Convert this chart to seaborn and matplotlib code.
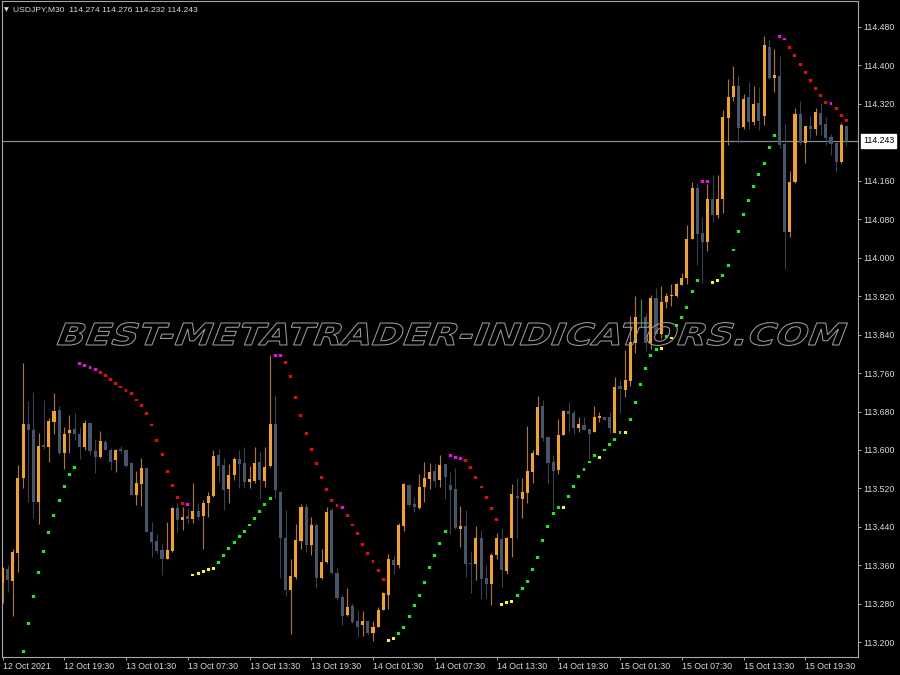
import numpy as np
import pandas as pd
import matplotlib
matplotlib.use("Agg")
import matplotlib.pyplot as plt
import seaborn as sns
from matplotlib.textpath import TextPath
from matplotlib.patches import PathPatch
from matplotlib.font_manager import FontProperties
from matplotlib.transforms import Affine2D

# USDJPY M30 candles, 12 Oct 2021 13:30 -> 15 Oct 2021 ~23:30
opens = [113.324, 113.352, 113.328, 113.385, 113.541, 113.655, 113.642, 113.492, 113.610, 113.606,
         113.659, 113.683, 113.594, 113.635, 113.643, 113.633, 113.606, 113.657, 113.597, 113.585,
         113.617, 113.600, 113.579, 113.602, 113.600, 113.572, 113.506, 113.529, 113.563, 113.430,
         113.411, 113.392, 113.374, 113.390, 113.479, 113.454, 113.463, 113.456, 113.474, 113.463,
         113.489, 113.505, 113.589, 113.568, 113.518, 113.548, 113.581, 113.572, 113.534, 113.536,
         113.574, 113.536, 113.567, 113.655, 113.513, 113.417, 113.308, 113.336, 113.411, 113.482,
         113.402, 113.444, 113.333, 113.367, 113.475, 113.345, 113.295, 113.256, 113.275, 113.244,
         113.236, 113.244, 113.220, 113.232, 113.268, 113.298, 113.371, 113.361, 113.442, 113.527,
         113.488, 113.480, 113.522, 113.539, 113.556, 113.538, 113.570, 113.527, 113.519, 113.436,
         113.442, 113.365, 113.362, 113.416, 113.334, 113.322, 113.381, 113.415, 113.349, 113.416,
         113.504, 113.499, 113.511, 113.555, 113.590, 113.692, 113.626, 113.576, 113.558, 113.631,
         113.681, 113.676, 113.645, 113.652, 113.643, 113.638, 113.667, 113.668, 113.669, 113.636,
         113.733, 113.724, 113.744, 113.823, 113.874, 113.877, 113.823, 113.917, 113.841, 113.908,
         113.920, 113.921, 113.944, 113.957, 114.039, 114.144, 114.052, 114.032, 114.122, 114.089,
         114.122, 114.290, 114.335, 114.357, 114.272, 114.334, 114.283, 114.321, 114.295, 114.439,
         114.373, 114.378, 114.236, 114.054, 114.158, 114.299, 114.238, 114.273, 114.268, 114.302,
         114.278, 114.252, 114.238, 114.199, 114.274]
highs = [113.357, 113.361, 113.395, 113.569, 113.782, 113.701, 113.720, 113.635, 113.705, 113.667,
         113.718, 113.692, 113.647, 113.673, 113.678, 113.647, 113.662, 113.659, 113.622, 113.640,
         113.621, 113.605, 113.603, 113.608, 113.603, 113.573, 113.556, 113.583, 113.565, 113.451,
         113.426, 113.406, 113.451, 113.482, 113.489, 113.482, 113.479, 113.531, 113.489, 113.496,
         113.512, 113.600, 113.603, 113.583, 113.571, 113.586, 113.600, 113.606, 113.567, 113.607,
         113.595, 113.607, 113.798, 113.714, 113.515, 113.475, 113.374, 113.447, 113.488, 113.489,
         113.461, 113.449, 113.395, 113.482, 113.479, 113.354, 113.298, 113.312, 113.281, 113.268,
         113.265, 113.247, 113.245, 113.274, 113.305, 113.383, 113.381, 113.449, 113.532, 113.529,
         113.503, 113.550, 113.576, 113.572, 113.572, 113.590, 113.571, 113.555, 113.562, 113.483,
         113.475, 113.390, 113.442, 113.433, 113.361, 113.385, 113.428, 113.437, 113.420, 113.529,
         113.541, 113.541, 113.650, 113.600, 113.712, 113.704, 113.628, 113.590, 113.665, 113.683,
         113.699, 113.683, 113.669, 113.668, 113.643, 113.691, 113.679, 113.669, 113.679, 113.752,
         113.745, 113.808, 113.879, 113.920, 113.915, 113.884, 113.922, 113.938, 113.941, 113.927,
         113.945, 113.948, 113.969, 114.068, 114.157, 114.155, 114.085, 114.153, 114.172, 114.173,
         114.307, 114.371, 114.399, 114.381, 114.340, 114.365, 114.357, 114.356, 114.461, 114.454,
         114.434, 114.420, 114.278, 114.181, 114.311, 114.326, 114.274, 114.295, 114.311, 114.321,
         114.293, 114.257, 114.241, 114.280, 114.276]
lows = [113.281, 113.304, 113.254, 113.347, 113.520, 113.492, 113.458, 113.447, 113.603, 113.574,
        113.633, 113.592, 113.560, 113.593, 113.621, 113.581, 113.600, 113.590, 113.553, 113.583,
        113.599, 113.558, 113.555, 113.593, 113.565, 113.506, 113.485, 113.484, 113.430, 113.378,
        113.385, 113.340, 113.373, 113.388, 113.430, 113.433, 113.447, 113.449, 113.454, 113.395,
        113.460, 113.503, 113.534, 113.475, 113.490, 113.538, 113.520, 113.520, 113.520, 113.531,
        113.499, 113.522, 113.565, 113.501, 113.333, 113.296, 113.218, 113.331, 113.395, 113.388,
        113.381, 113.312, 113.331, 113.365, 113.343, 113.288, 113.236, 113.254, 113.241, 113.210,
        113.213, 113.215, 113.203, 113.231, 113.267, 113.270, 113.343, 113.354, 113.432, 113.482,
        113.470, 113.478, 113.492, 113.518, 113.524, 113.524, 113.499, 113.425, 113.435, 113.399,
        113.335, 113.302, 113.329, 113.289, 113.293, 113.277, 113.374, 113.315, 113.343, 113.378,
        113.416, 113.458, 113.490, 113.531, 113.589, 113.619, 113.529, 113.476, 113.551, 113.631,
        113.638, 113.633, 113.638, 113.641, 113.582, 113.638, 113.659, 113.662, 113.636, 113.635,
        113.676, 113.711, 113.733, 113.802, 113.856, 113.806, 113.811, 113.841, 113.832, 113.895,
        113.899, 113.919, 113.943, 113.946, 114.038, 113.985, 113.948, 114.014, 114.075, 114.083,
        114.094, 114.234, 114.325, 114.238, 114.268, 114.267, 114.276, 114.265, 114.276, 114.371,
        114.344, 114.229, 113.976, 114.044, 114.155, 114.234, 114.196, 114.246, 114.255, 114.255,
        114.234, 114.214, 114.179, 114.196, 114.232]
closes = [113.354, 113.329, 113.388, 113.542, 113.655, 113.642, 113.492, 113.608, 113.606, 113.660,
          113.681, 113.593, 113.633, 113.642, 113.633, 113.607, 113.657, 113.597, 113.585, 113.619,
          113.600, 113.576, 113.601, 113.598, 113.567, 113.506, 113.531, 113.563, 113.430, 113.409,
          113.390, 113.373, 113.392, 113.479, 113.454, 113.461, 113.456, 113.474, 113.461, 113.489,
          113.505, 113.587, 113.567, 113.517, 113.548, 113.581, 113.571, 113.534, 113.539, 113.572,
          113.538, 113.565, 113.655, 113.517, 113.416, 113.308, 113.338, 113.412, 113.481, 113.402,
          113.444, 113.333, 113.367, 113.472, 113.345, 113.293, 113.254, 113.274, 113.243, 113.232,
          113.244, 113.220, 113.232, 113.268, 113.302, 113.374, 113.361, 113.445, 113.529, 113.485,
          113.481, 113.522, 113.541, 113.555, 113.536, 113.569, 113.544, 113.517, 113.437, 113.442,
          113.362, 113.362, 113.416, 113.331, 113.322, 113.381, 113.416, 113.350, 113.417, 113.508,
          113.501, 113.513, 113.556, 113.594, 113.689, 113.624, 113.572, 113.556, 113.631, 113.681,
          113.675, 113.645, 113.654, 113.641, 113.634, 113.668, 113.670, 113.663, 113.645, 113.731,
          113.726, 113.745, 113.824, 113.876, 113.874, 113.822, 113.917, 113.841, 113.908, 113.921,
          113.922, 113.946, 113.958, 114.039, 114.144, 114.050, 114.033, 114.122, 114.089, 114.123,
          114.292, 114.335, 114.357, 114.270, 114.331, 114.283, 114.320, 114.285, 114.443, 114.373,
          114.380, 114.234, 114.054, 114.158, 114.300, 114.239, 114.273, 114.268, 114.304, 114.276,
          114.250, 114.236, 114.200, 114.276, 114.243]

# Parabolic SAR per bar (nan = not drawn)
sar = [np.nan, np.nan, np.nan, np.nan, 113.181, 113.240, 113.296, 113.345, 113.388, 113.428,
       113.463, 113.494, 113.524, 113.549, 113.564, 113.780, 113.776, 113.772, 113.767, 113.762,
       113.754, 113.746, 113.738, 113.731, 113.724, 113.717, 113.704, 113.693, 113.676, 113.652,
       113.620, 113.591, 113.555, 113.526, 113.501, 113.489, 113.487, 113.340, 113.343, 113.348,
       113.352, 113.354, 113.366, 113.381, 113.395, 113.407, 113.420, 113.431, 113.444, 113.457,
       113.473, 113.486, 113.499, 113.797, 113.797, 113.782, 113.753, 113.709, 113.671, 113.635,
       113.602, 113.572, 113.543, 113.517, 113.494, 113.484, 113.480, 113.463, 113.444, 113.426,
       113.404, 113.385, 113.369, 113.350, 113.331, 113.204, 113.208, 113.218, 113.231, 113.254,
       113.277, 113.298, 113.324, 113.355, 113.381, 113.406, 113.431, 113.588, 113.585, 113.583,
       113.578, 113.564, 113.542, 113.523, 113.501, 113.479, 113.456, 113.279, 113.282, 113.284,
       113.297, 113.312, 113.326, 113.352, 113.377, 113.411, 113.440, 113.468, 113.481, 113.480,
       113.504, 113.525, 113.545, 113.560, 113.575, 113.588, 113.584, 113.600, 113.611, 113.622,
       113.636, 113.636, 113.663, 113.699, 113.737, 113.770, 113.797, 113.810, 113.811, 113.836,
       113.833, 113.859, 113.876, 113.896, 113.929, 113.952, 114.158, 114.158, 113.948, 113.953,
       113.963, 113.984, 114.016, 114.054, 114.090, 114.120, 114.148, 114.173, 114.196, 114.229,
       114.255, 114.460, 114.455, 114.438, 114.420, 114.402, 114.385, 114.368, 114.352, 114.338,
       114.323, 114.321, 114.311, 114.296, 114.285]
# G = up, Y = up (slow), R = down, M = down (slow), - = none
sar_state = ("----" "GGGGGGGGGGG" "MMMM" "RRRRRRRRRRRRRRRRR" "M" "YYYYY" "GGGGGGGGGGG"
             "MM" "RRRRRRRRRRR" "M" "RRRRRRRR" "YY" "GGGGGGGGGG" "MMM" "RRRRRRR" "YYY"
             "GGGGGGGGG" "Y" "GGGGGG" "Y" "GGGG" "Y" "GGGGGG" "Y" "G" "Y" "GGGGG" "MM" "YY"
             "GGGGGGGGGGG" "MM" "RRRRRRRR" "M" "RRR")

time_labels = ["12 Oct 2021", "12 Oct 19:30", "13 Oct 01:30", "13 Oct 07:30", "13 Oct 13:30",
               "13 Oct 19:30", "14 Oct 01:30", "14 Oct 07:30", "14 Oct 13:30", "14 Oct 19:30",
               "15 Oct 01:30", "15 Oct 07:30", "15 Oct 13:30", "15 Oct 19:30"]
price_ticks = [113.200, 113.280, 113.360, 113.440, 113.520, 113.600, 113.680, 113.760, 113.840,
               113.920, 114.000, 114.080, 114.160, 114.320, 114.400, 114.480]

BULL = "#F7A21B"
BEAR = "#46566A"
BULL_WICK = "#B8780F"
BEAR_WICK = "#36424F"
DOJI = "#1FA01F"
TXT = "#DADADA"
EDGE = "#A8A8A8"

sns.set_theme(style="dark", rc={"axes.facecolor": "black", "figure.facecolor": "black"})
plt.rcParams["font.family"] = ["Liberation Sans", "DejaVu Sans"]

fig = plt.figure(figsize=(9, 6.75), dpi=100, facecolor="black")
ax = fig.add_axes([2 / 900, 18.3 / 675, 856 / 900, 655.2 / 675])
ax.set_facecolor("black")

o, h, l, c = (np.array(v) for v in (opens, highs, lows, closes))
x = np.arange(len(o))
body_col = np.where(c > o, BULL, np.where(c < o, BEAR, DOJI))
wick_col = np.where(c > o, BULL_WICK, np.where(c < o, BEAR_WICK, DOJI))

ax.vlines(x, l, h, colors=wick_col, lw=0.8, zorder=2)
ax.bar(x, np.maximum(np.abs(c - o), 0.0012), bottom=np.minimum(o, c), width=0.6,
       color=body_col, linewidth=0, zorder=3)

# parabolic SAR dots
sar_df = pd.DataFrame({"bar": x, "sar": sar, "state": list(sar_state)})
sar_df = sar_df[sar_df["state"] != "-"]
pal = {"G": "#00FF00", "Y": "#FFFF00", "R": "#FF0000", "M": "#FF00FF"}
sns.scatterplot(data=sar_df, x="bar", y="sar", hue="state", palette=pal, marker="s",
                s=4.5, linewidth=0, legend=False, ax=ax, zorder=4)

# last price line
ax.axhline(closes[-1], color="#7D8A99", lw=0.9, zorder=1)

ax.set_xlim(-0.1, 166.25)
ax.set_ylim(113.170, 114.533)
ax.set_xlabel("")
ax.set_ylabel("")
ax.grid(False)

ax.set_xticks(np.arange(0, len(o), 12))
ax.set_xticklabels(time_labels, ha="left")
ax.yaxis.tick_right()
ax.set_yticks(price_ticks)
ax.set_yticklabels([f"{p:.3f}" for p in price_ticks])
ax.tick_params(axis="both", colors=EDGE, labelcolor=TXT, labelsize=6.3, length=2.5,
               width=0.7, pad=1.5, direction="out")
ax.tick_params(axis="x", bottom=True)
ax.tick_params(axis="y", right=True, left=False)
for s in ax.spines.values():
    s.set_visible(True)
    s.set_color(EDGE)
    s.set_linewidth(0.8)

ax.annotate(f"{closes[-1]:.3f}", xy=(1.0, closes[-1]), xycoords=ax.get_yaxis_transform(),
            xytext=(3.5, 0), textcoords="offset points", ha="left", va="center",
            fontsize=6.3, color="black",
            bbox=dict(boxstyle="square,pad=0.25", fc="white", ec="white"))

# header
fig.text(4 / 900, 1 - 10 / 675, "\u25bc", fontsize=4.5, color=TXT, va="center",
         family="DejaVu Sans")
fig.text(13 / 900, 1 - 10 / 675,
         f"USDJPY,M30  {opens[-1]:.3f} {highs[-1]:.3f} {lows[-1]:.3f} {closes[-1]:.3f}",
         fontsize=6.1, color=TXT, va="center")

# watermark as stretched outlined text
tp = TextPath((0, 0), "BEST-METATRADER-INDICATORS.COM", size=100,
              prop=FontProperties(family="DejaVu Sans", weight="bold"))
bb = tp.get_extents()
tr = (Affine2D().translate(-bb.x0, 0).scale(782 / bb.width, 22 / 72.9)
      .skew_deg(21, 0).translate(57, 675 - 345))
fig.add_artist(PathPatch(tp, transform=tr, facecolor="none", edgecolor="#9C9C9C",
                         lw=0.75, zorder=10))

fig.savefig("out.png", dpi=100, facecolor="black")
